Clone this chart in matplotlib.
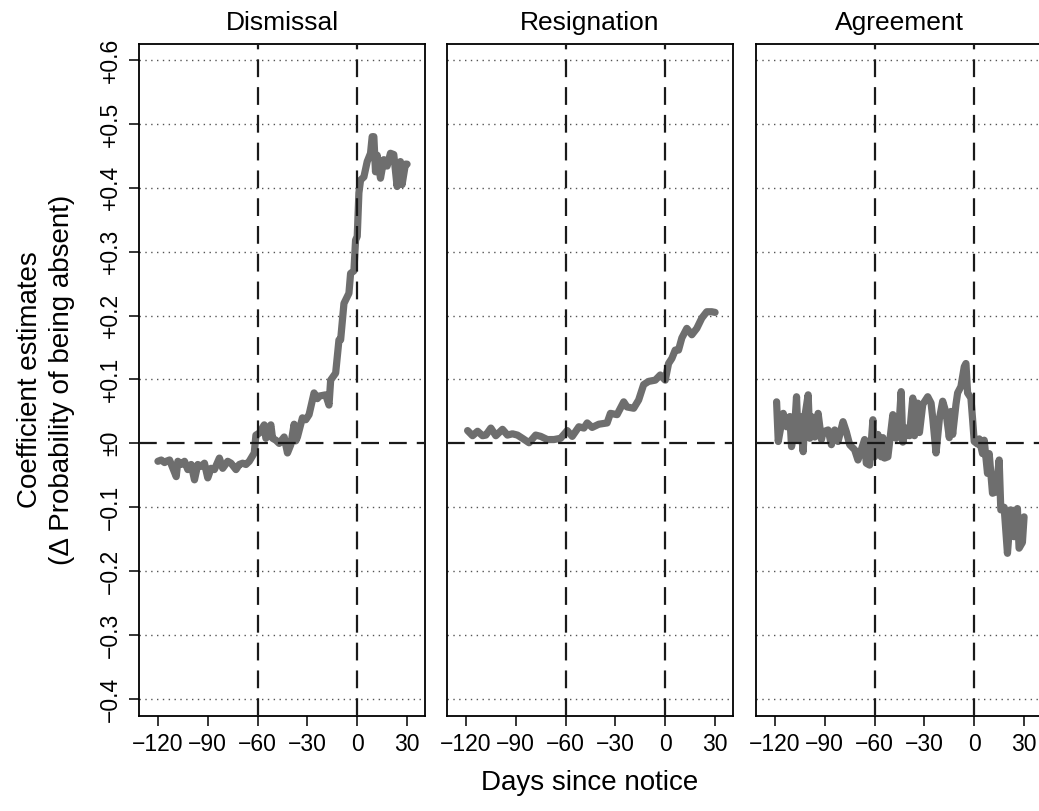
import numpy as np
import matplotlib.pyplot as plt

plt.rcParams["font.family"] = ["Liberation Sans", "DejaVu Sans"]

# ---- data ----
panels = ["Dismissal", "Resignation", "Agreement"]

dis_days = [-120, -118, -116, -115, -113, -111, -109, -108, -106, -104, -102, -100, -98, -96,
            -94, -92, -90, -88, -86, -83, -81, -78, -76, -73, -71, -69, -67, -65, -62, -61,
            -59, -56, -55, -52, -51, -49, -47, -44, -42, -40, -38, -37, -36, -33, -31, -29,
            -26, -24, -23, -19, -17, -16, -13, -11, -10, -8, -5, -4, -2, -1, 0, 1, 2, 4, 6,
            8, 9, 10, 11, 12, 14, 16, 18, 20, 22, 24, 26, 27, 29, 30]
dis_vals = [-0.028, -0.026, -0.030, -0.028, -0.026, -0.039, -0.052, -0.028, -0.033, -0.028,
            -0.041, -0.033, -0.057, -0.033, -0.036, -0.031, -0.054, -0.039, -0.041, -0.023,
            -0.039, -0.028, -0.031, -0.041, -0.033, -0.031, -0.033, -0.028, -0.015, 0.013,
            0.016, 0.029, 0.008, 0.029, 0.008, 0.005, 0.000, 0.010, -0.015, -0.002, 0.030,
            0.004, 0.010, 0.040, 0.037, 0.045, 0.079, 0.070, 0.074, 0.076, 0.060, 0.099,
            0.110, 0.162, 0.162, 0.219, 0.235, 0.266, 0.270, 0.318, 0.324, 0.392, 0.412,
            0.417, 0.441, 0.454, 0.480, 0.480, 0.425, 0.451, 0.415, 0.444, 0.434, 0.454,
            0.452, 0.402, 0.441, 0.405, 0.437, 0.437]

res_days = [-119, -116, -113, -110, -108, -105, -102, -98, -95, -92, -89, -86, -82, -78, -75,
            -71, -67, -63, -59, -56, -52, -49, -47, -44, -40, -35, -33, -29, -25, -23, -19,
            -16, -13, -10, -6, -3, 0, 2, 4, 6, 8, 10, 13, 16, 19, 22, 25, 28, 30]
res_vals = [0.020, 0.012, 0.019, 0.012, 0.013, 0.024, 0.012, 0.022, 0.013, 0.015, 0.013,
            0.008, 0.001, 0.013, 0.011, 0.006, 0.006, 0.008, 0.020, 0.011, 0.026, 0.024,
            0.032, 0.025, 0.030, 0.032, 0.047, 0.045, 0.065, 0.057, 0.055, 0.068, 0.092,
            0.097, 0.099, 0.107, 0.099, 0.125, 0.133, 0.146, 0.146, 0.165, 0.180, 0.170,
            0.180, 0.196, 0.206, 0.206, 0.205]

agr_days = [-119, -118, -115, -113, -111, -110, -108, -107, -106, -105, -103, -102, -100,
            -99, -98, -96, -94, -92, -91, -88, -86, -84, -82, -79, -77, -75, -72, -70, -68,
            -66, -65, -63, -61, -60, -58, -56, -55, -54, -52, -49, -47, -45, -44, -43, -41,
            -39, -37, -36, -34, -33, -31, -28, -26, -25, -23, -21, -19, -17, -15, -14, -13,
            -11, -10, -8, -6, -5, -4, -2, -1, 0, 2, 3, 5, 6, 8, 9, 11, 13, 15, 16, 18, 20,
            22, 24, 26, 27, 29, 30]
agr_vals = [0.065, 0.003, 0.047, 0.026, 0.042, -0.005, 0.030, 0.073, 0.006, 0.042, -0.013,
            0.042, 0.076, 0.008, 0.042, 0.010, 0.047, 0.006, 0.018, 0.021, -0.002, 0.021,
            0.003, 0.034, 0.018, -0.002, -0.010, -0.026, -0.010, 0.006, -0.031, -0.034,
            0.037, -0.021, 0.014, -0.021, 0.009, -0.023, -0.021, 0.045, 0.008, 0.040, 0.081,
            0.002, 0.024, 0.012, 0.071, 0.012, 0.063, 0.017, 0.061, 0.073, 0.063, 0.040,
            -0.015, 0.038, 0.066, 0.048, 0.009, 0.050, 0.014, 0.061, 0.079, 0.089, 0.120,
            0.125, 0.079, 0.071, 0.038, 0.003, -0.001, 0.007, -0.016, 0.005, -0.047, -0.016,
            -0.078, -0.076, -0.026, -0.104, -0.100, -0.172, -0.104, -0.146, -0.102, -0.164,
            -0.155, -0.115]

series = [(dis_days, dis_vals), (res_days, res_vals), (agr_days, agr_vals)]

x_ticks = [-120, -90, -60, -30, 0, 30]
x_ticklabels = ["\u2212120", "\u221290", "\u221260", "\u221230", "0", "30"]
y_ticks = [-0.4, -0.3, -0.2, -0.1, 0.0, 0.1, 0.2, 0.3, 0.4, 0.5, 0.6]
y_ticklabels = ["\u22120.4", "\u22120.3", "\u22120.2", "\u22120.1", "\u00b10",
                "+0.1", "+0.2", "+0.3", "+0.4", "+0.5", "+0.6"]

# ---- figure ----
fig = plt.figure(figsize=(10.39, 8.11), dpi=100)

lefts = [139, 447, 756]
for i, (name, (d, v)) in enumerate(zip(panels, series)):
    ax = fig.add_axes([lefts[i] / 1039, 95 / 811, 286 / 1039, 672 / 811])
    ax.set_xlim(-131.4, 40.8)
    ax.set_ylim(-0.4266, 0.625)

    # dotted grid at y ticks
    for yt in y_ticks:
        if yt != 0:
            ax.axhline(yt, color="#555555", lw=1.0, dashes=(1, 3.2), zorder=1)

    ax.plot(d, v, color="#6e6e6e", lw=5.2, solid_joinstyle="round",
            solid_capstyle="round", zorder=2)

    # dashed reference lines
    ax.axhline(0, color="#1a1a1a", lw=1.6, dashes=(8, 4.5), zorder=3)
    for xv in (-60, 0):
        ax.axvline(xv, color="#1a1a1a", lw=1.6, dashes=(8, 4.5), zorder=3)

    for sp in ax.spines.values():
        sp.set_linewidth(1.3)
        sp.set_color("black")

    ax.set_xticks(x_ticks)
    ax.set_xticklabels(x_ticklabels)
    ax.tick_params(axis="x", length=7, width=1.1, labelsize=16.5, pad=5)
    if i == 0:
        ax.set_yticks(y_ticks)
        ax.set_yticklabels(y_ticklabels, rotation=90, va="center")
        ax.tick_params(axis="y", length=7, width=1.1, labelsize=16.5, pad=5)
    else:
        ax.set_yticks([])

    ax.set_title(name, fontsize=19, pad=10)

fig.text(590 / 1039, 1 - 783 / 811, "Days since notice", ha="center", va="center", fontsize=20)
fig.text(30 / 1039, 1 - 380 / 811, "Coefficient estimates", rotation=90,
         ha="center", va="center", fontsize=20)
fig.text(62 / 1039, 1 - 380 / 811, "(\u0394 Probability of being absent)", rotation=90,
         ha="center", va="center", fontsize=20)

fig.savefig("out.png", dpi=100)
